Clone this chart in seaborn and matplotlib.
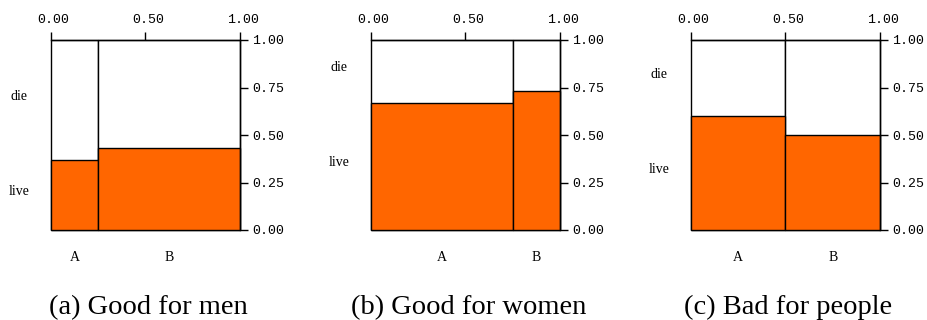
import numpy as np
import pandas as pd
import matplotlib
matplotlib.use("Agg")
import matplotlib.pyplot as plt
import matplotlib.transforms as mtransforms
import seaborn as sns

# ---- data ----
groups = ["A", "B"]
outcomes = ["live", "die"]
captions = ["(a) Good for men", "(b) Good for women", "(c) Bad for people"]
men_share = [0.25, 0.75]
men_live = [0.37, 0.43]
women_share = [0.75, 0.25]
women_live = [0.67, 0.73]
people_share = [0.50, 0.50]
people_live = [0.60, 0.50]
x_ticks = [0.0, 0.5, 1.0]
y_ticks = [0.0, 0.25, 0.5, 0.75, 1.0]

panels = [(men_share, men_live), (women_share, women_live), (people_share, people_live)]

sns.set_theme(style="white")
plt.rcParams["font.family"] = ["Liberation Serif", "DejaVu Serif"]
plt.rcParams["text.color"] = "black"

ORANGE = "#FF6600"
MONO = "Liberation Mono"

fig = plt.figure(figsize=(9.27, 3.2), dpi=100)
W, H = 927, 320
lefts_px = [50.7, 370.7, 690.7]
ax_w_px = 189.3
ax_top_px, ax_bot_px = 40, 230

for i, (share, live) in enumerate(panels):
    ax = fig.add_axes([lefts_px[i] / W, 1 - ax_bot_px / H, ax_w_px / W,
                       (ax_bot_px - ax_top_px) / H])
    edges = [0.0] + list(np.cumsum(share))
    mids = [(a + b) / 2 for a, b in zip(edges[:-1], edges[1:])]
    df = pd.DataFrame({"group": groups, "mid": mids, "live": live,
                       "total": [1.0] * len(groups)})
    # die (full column, white) then live (orange) on top
    sns.histplot(data=df, x="mid", weights="total", bins=edges, stat="count",
                 color="white", edgecolor="black", linewidth=1.0, alpha=1,
                 ax=ax)
    sns.histplot(data=df, x="mid", weights="live", bins=edges, stat="count",
                 color=ORANGE, edgecolor="black", linewidth=1.0, alpha=1,
                 ax=ax)
    for p in ax.patches:
        p.set_clip_on(False)
    ax.set_xlim(0, 1)
    ax.set_ylim(0, 1)
    ax.set_xlabel("")
    ax.set_ylabel("")
    ax.grid(False)

    ax.xaxis.tick_top()
    ax.yaxis.tick_right()
    ax.set_xticks(x_ticks)
    ax.set_xticklabels([f"{v:.2f}" for v in x_ticks], fontfamily=MONO, fontsize=9.5)
    ax.set_yticks(y_ticks)
    ax.set_yticklabels([f"{v:.2f}" for v in y_ticks], fontfamily=MONO, fontsize=9.5)
    ax.tick_params(axis="both", direction="out", length=6, width=1.0,
                   colors="black", labelcolor="black")
    ax.tick_params(axis="x", pad=4, top=True, bottom=False, labeltop=True,
                   labelbottom=False)
    ax.tick_params(axis="y", pad=3, right=True, left=False, labelright=True,
                   labelleft=False)
    off = mtransforms.ScaledTranslation(0.03, 0, fig.dpi_scale_trans)
    for lab in ax.get_xticklabels():
        lab.set_transform(lab.get_transform() + off)
    for s in ["left", "bottom"]:
        ax.spines[s].set_visible(False)
    for s in ["top", "right"]:
        ax.spines[s].set_visible(True)
        ax.spines[s].set_color("black")
        ax.spines[s].set_linewidth(1.0)

    # outcome labels beside column A
    tr = mtransforms.blended_transform_factory(ax.transAxes, ax.transData)
    ax.text(-0.165, (live[0] + 1) / 2, outcomes[1], transform=tr,
            ha="center", va="baseline", fontsize=10, color="black")
    ax.text(-0.165, live[0] / 2, outcomes[0], transform=tr,
            ha="center", va="baseline", fontsize=10, color="black")
    # group labels below
    trx = mtransforms.blended_transform_factory(ax.transData, ax.transAxes)
    for g, m in zip(groups, mids):
        ax.text(m, -0.165, g, transform=trx, ha="center", va="baseline",
                fontsize=10, color="black")

    cx = (lefts_px[i] + ax_w_px / 2 + 3) / W
    fig.text(cx, 1 - 314 / H, captions[i], ha="center",
             va="baseline", fontsize=20.5, color="black")

fig.savefig("out.png", dpi=100, facecolor="white")
